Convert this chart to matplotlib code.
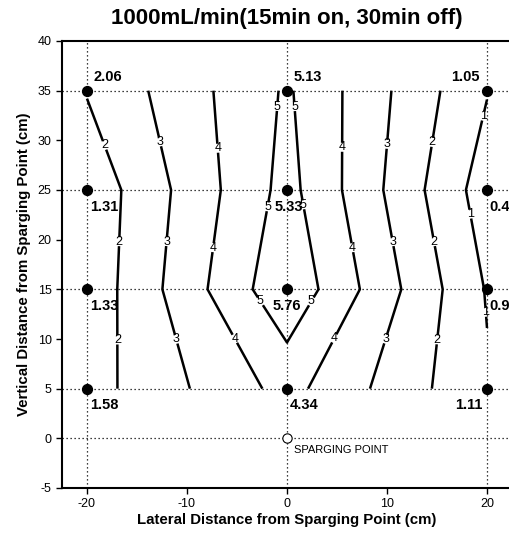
import numpy as np
import matplotlib
matplotlib.use("Agg")
import matplotlib.pyplot as plt

plt.rcParams['font.family'] = ['Liberation Sans', 'DejaVu Sans']
plt.rcParams['axes.unicode_minus'] = False

# ---- data ----
x_pos = [-20, 0, 20]                  # lateral distance (cm)
y_pos = [5, 15, 25, 35]               # vertical distance (cm)
# rows follow y_pos, columns follow x_pos
values = [
    [1.58, 4.34, 1.11],
    [1.33, 5.76, 0.93],
    [1.31, 5.33, 0.49],
    [2.06, 5.13, 1.05],
]
levels = [1, 2, 3, 4, 5]
x_ticks = [-20, -10, 0, 10, 20]
y_ticks = [-5, 0, 5, 10, 15, 20, 25, 30, 35, 40]
sparge = (0, 0)
title = "1000mL/min(15min on, 30min off)"
xlabel = "Lateral Distance from Sparging Point (cm)"
ylabel = "Vertical Distance from Sparging Point (cm)"

# ---- styling / placement (not data) ----
label_offsets = {  # (dx, dy) in points, ha
    (0, 3): (5, 5, 'left'), (1, 3): (5, 5, 'left'), (2, 3): (-5, 5, 'right'),
    (0, 2): (2, -17, 'left'), (1, 2): (1, -17, 'center'), (2, 2): (2, -17, 'left'),
    (0, 1): (2, -17, 'left'), (1, 1): (0, -17, 'center'), (2, 1): (2, -17, 'left'),
    (0, 0): (2, -17, 'left'), (1, 0): (2, -17, 'left'), (2, 0): (-3, -17, 'right'),
}
clabel_pos = [(-17.9, 29.6), (-16.8, 19.8), (-17.0, 9.9),
              (-12.4, 29.9), (-12.0, 19.8), (-11.4, 9.9),
              (-7.0, 29.2), (-7.4, 19.2), (-5.7, 9.8),
              (-0.9, 33.4), (-1.9, 23.3), (-3.0, 13.6),
              (0.9, 33.4), (1.6, 23.5), (2.8, 13.6),
              (5.6, 29.3), (6.6, 19.2), (5.1, 9.9),
              (10.0, 29.6), (10.6, 19.8), (10.2, 9.9),
              (14.5, 29.8), (14.7, 19.8), (15.2, 9.9),
              (19.8, 32.4), (18.5, 22.6), (20.0, 12.7)]

fig = plt.figure(figsize=(5.1, 5.4), dpi=100)
ax = fig.add_axes([62/510, 52/540, 450/510, 447/540])

X, Y = np.meshgrid(x_pos, y_pos)
Z = np.array(values)

# grid lines at measurement locations
for xv in x_pos:
    ax.axvline(xv, color='k', ls=(0, (1, 2.2)), lw=0.9, zorder=1)
for yv in y_pos + [sparge[1]]:
    ax.axhline(yv, color='k', ls=(0, (1, 2.2)), lw=0.9, zorder=1)

cs = ax.contour(X, Y, Z, levels=levels, colors='k', linewidths=1.8, zorder=2)
ax.clabel(cs, fmt='%d', fontsize=9, inline=True, inline_spacing=2,
          manual=clabel_pos)
for t in cs.labelTexts:
    t.set_rotation(0)

ax.scatter(X.ravel(), Y.ravel(), s=50, color='k', zorder=4)
for j in range(len(y_pos)):
    for i in range(len(x_pos)):
        dx, dy, ha = label_offsets[(i, j)]
        ax.annotate(f"{values[j][i]:.2f}", (x_pos[i], y_pos[j]),
                    xytext=(dx, dy), textcoords='offset points',
                    ha=ha, va='bottom', fontsize=10.5, fontweight='bold',
                    annotation_clip=False, zorder=5)

ax.scatter([sparge[0]], [sparge[1]], s=45, facecolor='white',
           edgecolor='k', linewidth=0.8, zorder=4)
ax.annotate("SPARGING POINT", sparge, xytext=(5, -8.5),
            textcoords='offset points', ha='left', va='center', fontsize=8)

ax.set_xlim(-22.5, 22.5)
ax.set_ylim(-5, 40)
ax.set_xticks(x_ticks)
ax.set_yticks(y_ticks)
ax.tick_params(direction='out', length=4, width=1, labelsize=9)
for s in ax.spines.values():
    s.set_linewidth(1.5)

ax.set_title(title, fontsize=16, fontweight='bold', pad=12)
ax.set_xlabel(xlabel, fontsize=10.8, fontweight='bold', labelpad=2)
ax.set_ylabel(ylabel, fontsize=10.8, fontweight='bold', labelpad=5)

fig.savefig("out.png", dpi=100)
